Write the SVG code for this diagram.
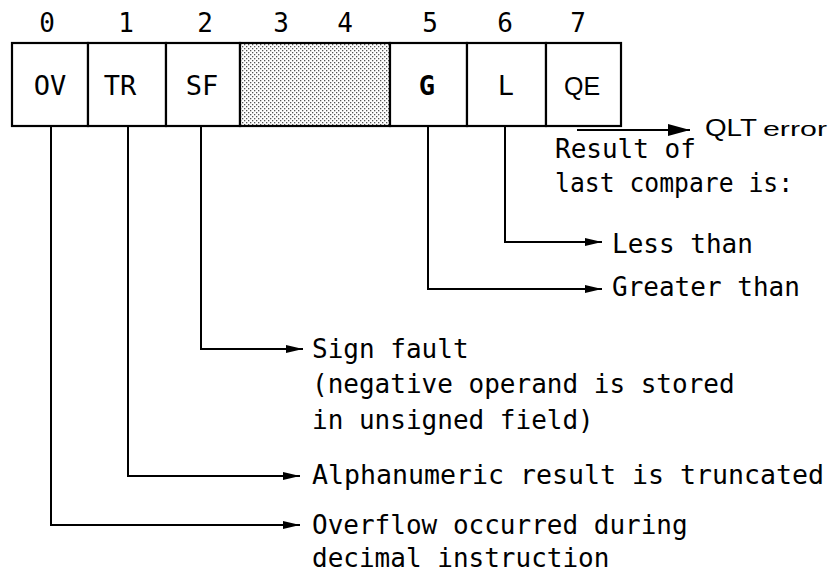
<svg xmlns="http://www.w3.org/2000/svg" width="835" height="573" viewBox="0 0 835 573">
<style>
.box{fill:#fff;stroke:#000;stroke-width:2.2}
.num{font-family:"DejaVu Sans Mono",monospace;font-size:26px;fill:#000;text-anchor:middle}
.lbl{font-family:"DejaVu Sans Mono",monospace;font-size:27px;fill:#000;text-anchor:middle}
.txt{font-family:"DejaVu Sans Mono",monospace;font-size:26px;fill:#000}
.sans{font-family:"Liberation Sans",Arial,sans-serif;fill:#000}
.con{fill:none;stroke:#000;stroke-width:2}
</style>
<defs>
<pattern id="dots" width="4" height="4" patternUnits="userSpaceOnUse">
<rect width="4" height="4" fill="#fff"/>
<rect x="0" y="0" width="1.3" height="1.3" fill="#555"/>
<rect x="2" y="2" width="1.3" height="1.3" fill="#555"/>
</pattern>
<marker id="ah" markerUnits="userSpaceOnUse" markerWidth="17" markerHeight="9" refX="17" refY="4.5" orient="auto">
<path d="M0,0.5 L17,4.5 L0,8.5 z" fill="#000"/>
</marker>
<marker id="ahb" markerUnits="userSpaceOnUse" markerWidth="22" markerHeight="12" refX="22" refY="6" orient="auto">
<path d="M0,0 L22,6 L0,12 z" fill="#000"/>
</marker>
</defs>
<rect x="0" y="0" width="835" height="573" fill="#fff"/>

<g id="bit-numbers">
<text class="num" x="47" y="32">0</text>
<text class="num" x="126" y="32">1</text>
<text class="num" x="205" y="32">2</text>
<text class="num" x="281" y="32">3</text>
<text class="num" x="345" y="32">4</text>
<text class="num" x="430" y="32">5</text>
<text class="num" x="505" y="32">6</text>
<text class="num" x="578" y="32">7</text>
</g>

<g id="cell-OV"><rect class="box" x="12" y="43" width="76" height="83"/><text class="lbl" x="50" y="95">OV</text></g>
<g id="cell-TR"><rect class="box" x="88" y="43" width="78" height="83"/><text class="lbl" x="120" y="95">TR</text></g>
<g id="cell-SF"><rect class="box" x="166" y="43" width="74" height="83"/><text class="lbl" x="202" y="95">SF</text></g>
<g id="cell-reserved"><rect class="box" x="240" y="43" width="150" height="83" style="fill:url(#dots)"/></g>
<g id="cell-G"><rect class="box" x="390" y="43" width="77" height="83"/><text class="lbl" x="427" y="95" font-weight="bold">G</text></g>
<g id="cell-L"><rect class="box" x="467" y="43" width="79" height="83"/><text class="lbl" x="506" y="95">L</text></g>
<g id="cell-QE"><rect class="box" x="546" y="43" width="75" height="83"/><text class="sans" x="582" y="95" font-size="25" text-anchor="middle">QE</text></g>

<g id="connectors">
<path class="con" d="M577,130 H690" marker-end="url(#ahb)"/>
<path class="con" d="M505,126 V242 H602" marker-end="url(#ah)"/>
<path class="con" d="M428,126 V289 H602" marker-end="url(#ah)"/>
<path class="con" d="M201,126 V349 H303" marker-end="url(#ah)"/>
<path class="con" d="M128,126 V476 H300" marker-end="url(#ah)"/>
<path class="con" d="M51,126 V525 H300" marker-end="url(#ah)"/>
</g>

<g id="label-QLT">
<text class="sans" x="705" y="136" font-size="24" textLength="52" lengthAdjust="spacingAndGlyphs">QLT</text>
<text class="sans" x="763" y="136" font-size="21" textLength="64" lengthAdjust="spacingAndGlyphs">error</text>
</g>
<g id="label-compare">
<text class="txt" x="555" y="158">Result of</text>
<text class="txt" x="555" y="192" textLength="238" lengthAdjust="spacingAndGlyphs">last compare is:</text>
</g>
<g id="label-less"><text class="txt" x="612" y="253">Less than</text></g>
<g id="label-greater"><text class="txt" x="612" y="296">Greater than</text></g>
<g id="label-sign">
<text class="txt" x="312" y="358">Sign fault</text>
<text class="txt" x="312" y="393">(negative operand is stored</text>
<text class="txt" x="312" y="429">in unsigned field)</text>
</g>
<g id="label-trunc"><text class="txt" x="312" y="484" textLength="512" lengthAdjust="spacingAndGlyphs">Alphanumeric result is truncated</text></g>
<g id="label-overflow">
<text class="txt" x="312" y="534">Overflow occurred during</text>
<text class="txt" x="312" y="567">decimal instruction</text>
</g>
</svg>
